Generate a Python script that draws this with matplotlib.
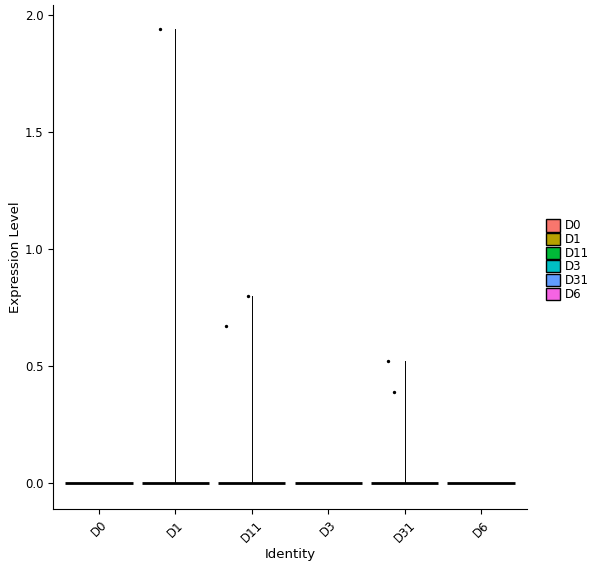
import matplotlib.pyplot as plt
from matplotlib.patches import Patch

groups = ["D0", "D1", "D11", "D3", "D31", "D6"]
colors = ["#F8766D", "#B79F00", "#00BA38", "#00BFC4", "#619CFF", "#F564E3"]
max_expr = [0.0, 1.94, 0.80, 0.0, 0.52, 0.0]
# non-zero cells: (group index, jitter offset, value)
pt_group = [1, 2, 2, 4, 4]
pt_jitter = [-0.2, -0.34, -0.05, -0.22, -0.14]
pt_value = [1.94, 0.67, 0.80, 0.52, 0.39]

fig = plt.figure(figsize=(6, 5.68), dpi=100)
ax = fig.add_axes([53/600, 1-509/568, 474/600, 504/568])

for i, g in enumerate(groups):
    # flat violin body at zero
    ax.plot([i - 0.44, i + 0.44], [0, 0], color="black", lw=2, solid_capstyle="butt", zorder=2)
    if max_expr[i] > 0:
        ax.plot([i, i], [0, max_expr[i]], color="black", lw=0.7, zorder=2)

ax.scatter([pt_group[k] + pt_jitter[k] for k in range(len(pt_group))], pt_value,
           s=2, color="black", zorder=3)

ax.set_xlim(-0.6, 5.6)
ax.set_ylim(-0.111, 2.043)
ax.set_xticks(range(len(groups)))
ax.set_xticklabels(groups, rotation=45, fontsize=8.5)
ax.set_yticks([0, 0.5, 1.0, 1.5, 2.0])
ax.set_yticklabels(["0.0", "0.5", "1.0", "1.5", "2.0"], fontsize=8.5)
ax.set_xlabel("Identity", fontsize=9.5, labelpad=2)
ax.set_ylabel("Expression Level", fontsize=9.5, labelpad=2)
for s in ["top", "right"]:
    ax.spines[s].set_visible(False)

handles = [Patch(facecolor=c, edgecolor="black", label=g) for g, c in zip(groups, colors)]
fig.legend(handles=handles, loc="center left", bbox_to_anchor=(535/600, 1-260/568),
           frameon=False, fontsize=8.5, handlelength=1.2, handleheight=1.2,
           labelspacing=0.05, handletextpad=0.4)

fig.savefig("out.png", dpi=100)
